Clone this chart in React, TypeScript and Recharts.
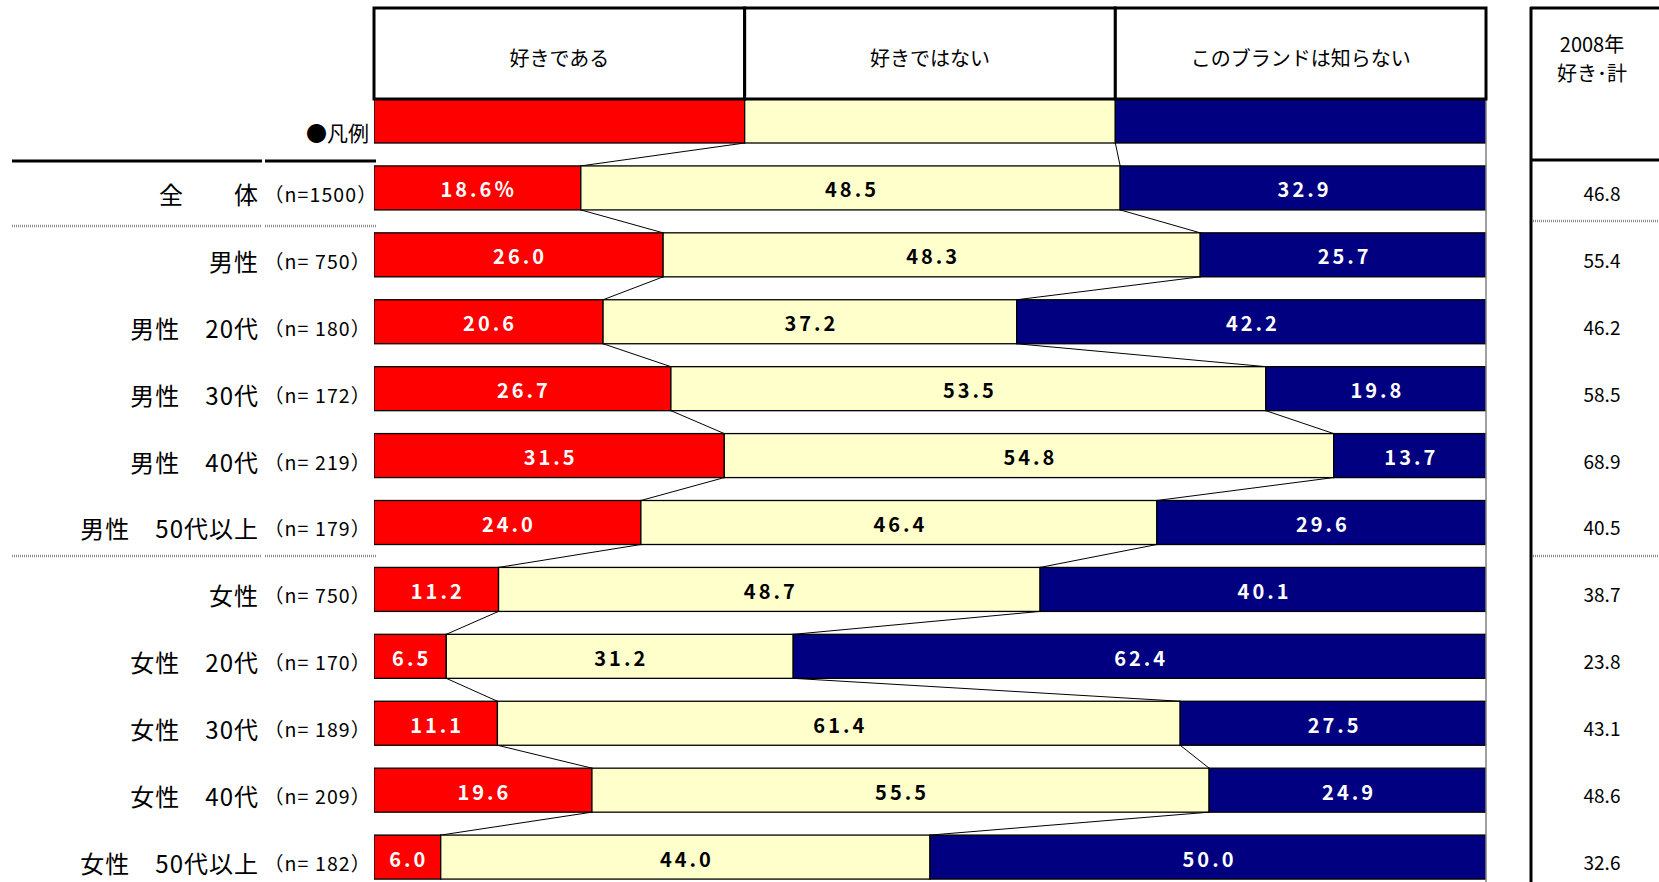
import React from "react";
import { BarChart, Bar, XAxis, YAxis, LabelList, ReferenceLine } from "recharts";

// survey rows (top to bottom)
const groups = [
  "全　　体",
  "男性",
  "男性　20代",
  "男性　30代",
  "男性　40代",
  "男性　50代以上",
  "女性",
  "女性　20代",
  "女性　30代",
  "女性　40代",
  "女性　50代以上",
];
const sampleSizes = ["1500", " 750", " 180", " 172", " 219", " 179", " 750", " 170", " 189", " 209", " 182"];
const likePct = [18.6, 26.0, 20.6, 26.7, 31.5, 24.0, 11.2, 6.5, 11.1, 19.6, 6.0];
const dislikePct = [48.5, 48.3, 37.2, 53.5, 54.8, 46.4, 48.7, 31.2, 61.4, 55.5, 44.0];
const unknownPct = [32.9, 25.7, 42.2, 19.8, 13.7, 29.6, 40.1, 62.4, 27.5, 24.9, 50.0];
const like2008 = [46.8, 55.4, 46.2, 58.5, 68.9, 40.5, 38.7, 23.8, 43.1, 48.6, 32.6];
const seriesNames = ["好きである", "好きではない", "このブランドは知らない"];
const legendLabel = "●凡例";

const RED = "#ff0000";
const CREAM = "#ffffcc";
const NAVY = "#000080";
const FONT = '"Noto Sans CJK JP", "Noto Sans", sans-serif';

const W = 1659;
const H = 894;
const M = { top: 88, right: 173, bottom: 3, left: 0 };

type Row = {
  name: string;
  like: number;
  dislike: number;
  unknown: number;
  legend?: boolean;
  n?: string;
  prev?: number;
};

const rows: Row[] = [
  { name: legendLabel, like: 100 / 3, dislike: 100 / 3, unknown: 100 / 3, legend: true },
  ...groups.map((g, i) => ({
    name: g,
    like: likePct[i],
    dislike: dislikePct[i],
    unknown: unknownPct[i],
    n: sampleSizes[i],
    prev: like2008[i],
  })),
];

const STEP = (H - M.top - M.bottom) / rows.length;

const barRect = (p: any, fill: string) => (
  <rect x={p.x} y={p.y} width={p.width} height={p.height} fill={fill} stroke="#000" strokeWidth={1.3} />
);

const LikeShape = (p: any) => {
  const i = p.index;
  const scale = p.width / rows[i].like;
  const next = rows[i + 1];
  return (
    <g>
      {barRect(p, RED)}
      {next && (
        <line
          x1={p.x + p.width}
          y1={p.y + p.height}
          x2={p.x + next.like * scale}
          y2={p.y + STEP}
          stroke="#000"
          strokeWidth={1}
        />
      )}
    </g>
  );
};

const DislikeShape = (p: any) => {
  const i = p.index;
  const scale = p.width / rows[i].dislike;
  const left = p.x - rows[i].like * scale;
  const next = rows[i + 1];
  return (
    <g>
      {barRect(p, CREAM)}
      {next && (
        <line
          x1={p.x + p.width}
          y1={p.y + p.height}
          x2={left + (next.like + next.dislike) * scale}
          y2={p.y + STEP}
          stroke="#000"
          strokeWidth={1}
        />
      )}
    </g>
  );
};

const UnknownShape = (p: any) => barRect(p, NAVY);

const makeLabel = (series: number, color: string) => (p: any) => {
  const { x, y, width, height, value, index } = p;
  if (index === 0) {
    // legend row: header cell above the swatch
    return (
      <g>
        <rect x={x} y={8} width={width} height={y - 8} fill="#fff" stroke="#000" strokeWidth={3} />
        <text
          x={x + width / 2}
          y={57}
          textAnchor="middle"
          dominantBaseline="central"
          fontFamily={FONT}
          fontSize={20}
          fill="#000"
        >
          {seriesNames[series]}
        </text>
      </g>
    );
  }
  const txt = Number(value).toFixed(1) + (index === 1 && series === 0 ? "％" : "");
  return (
    <text
      x={x + width / 2 + 1.5}
      y={y + height / 2 + 1}
      textAnchor="middle"
      dominantBaseline="central"
      fontFamily={FONT}
      fontWeight={700}
      fontSize={20}
      letterSpacing={3}
      fill={color}
    >
      {txt}
    </text>
  );
};

const RowTick = (props: any) => {
  const { y, payload } = props;
  const row = rows.find((r) => r.name === payload.value);
  if (!row) return null;
  if (row.legend) {
    return (
      <text x={369} y={y + 11} textAnchor="end" dominantBaseline="central" fontFamily={FONT} fontSize={21} fill="#000">
        {row.name}
      </text>
    );
  }
  return (
    <g>
      <text
        x={259}
        y={y + 5}
        textAnchor="end"
        dominantBaseline="central"
        fontFamily={FONT}
        fontSize={24}
        letterSpacing={1}
        fill="#000"
      >
        {row.name}
      </text>
      <text
        x={264}
        y={y + 5}
        dominantBaseline="central"
        fontFamily={FONT}
        fontSize={19.5}
        letterSpacing={1.1}
        fill="#000"
        style={{ whiteSpace: "pre" }}
      >
        {"（n=" + row.n + "）"}
      </text>
      <text x={1602} y={y + 4} textAnchor="middle" dominantBaseline="central" fontFamily={FONT} fontSize={19} fill="#000">
        {row.prev!.toFixed(1)}
      </text>
    </g>
  );
};

const Decor = () => (
  <svg width={W} height={882} style={{ position: "absolute", left: 0, top: 0, pointerEvents: "none" }}>
    {/* left table rules */}
    <line x1={12} x2={262} y1={161} y2={161} stroke="#000" strokeWidth={3} />
    <line x1={265} x2={376} y1={161} y2={161} stroke="#000" strokeWidth={3} />
    {[226, 556].map((yy) => (
      <g key={yy}>
        <line x1={12} x2={262} y1={yy} y2={yy} stroke="#8c8c8c" strokeWidth={2.5} strokeDasharray="1 1" />
        <line x1={265} x2={376} y1={yy} y2={yy} stroke="#8c8c8c" strokeWidth={2.5} strokeDasharray="1 1" />
      </g>
    ))}
    {/* 2008 column */}
    <line x1={1531} x2={1531} y1={7} y2={882} stroke="#000" strokeWidth={3} />
    <line x1={1530} x2={W} y1={8} y2={8} stroke="#000" strokeWidth={3} />
    <line x1={1530} x2={W} y1={160} y2={160} stroke="#000" strokeWidth={3} />
    <line x1={1533} x2={W} y1={221} y2={221} stroke="#8c8c8c" strokeWidth={2.5} strokeDasharray="1 1" />
    <line x1={1533} x2={W} y1={556} y2={556} stroke="#8c8c8c" strokeWidth={2.5} strokeDasharray="1 1" />
    <text x={1592} y={43} textAnchor="middle" dominantBaseline="central" fontFamily={FONT} fontSize={20}>
      2008年
    </text>
    <text x={1592} y={72} textAnchor="middle" dominantBaseline="central" fontFamily={FONT} fontSize={20}>
      好き･計
    </text>
  </svg>
);

export default function App() {
  return (
    <div style={{ position: "absolute", left: 0, top: 0, width: W, height: 882, overflow: "hidden", background: "#fff" }}>
      <BarChart width={W} height={H} data={rows} layout="vertical" margin={M} barSize={44}>
        <XAxis type="number" domain={[0, 100]} allowDataOverflow hide />
        <YAxis
          type="category"
          dataKey="name"
          width={374}
          interval={0}
          axisLine={false}
          tickLine={false}
          tick={<RowTick />}
        />
        <ReferenceLine x={100} stroke="#808080" strokeWidth={1.5} />
        <Bar dataKey="like" stackId="a" fill={RED} shape={LikeShape} isAnimationActive={false}>
          <LabelList dataKey="like" content={makeLabel(0, "#fff")} />
        </Bar>
        <Bar dataKey="dislike" stackId="a" fill={CREAM} shape={DislikeShape} isAnimationActive={false}>
          <LabelList dataKey="dislike" content={makeLabel(1, "#000")} />
        </Bar>
        <Bar dataKey="unknown" stackId="a" fill={NAVY} shape={UnknownShape} isAnimationActive={false}>
          <LabelList dataKey="unknown" content={makeLabel(2, "#fff")} />
        </Bar>
      </BarChart>
      <Decor />
    </div>
  );
}
